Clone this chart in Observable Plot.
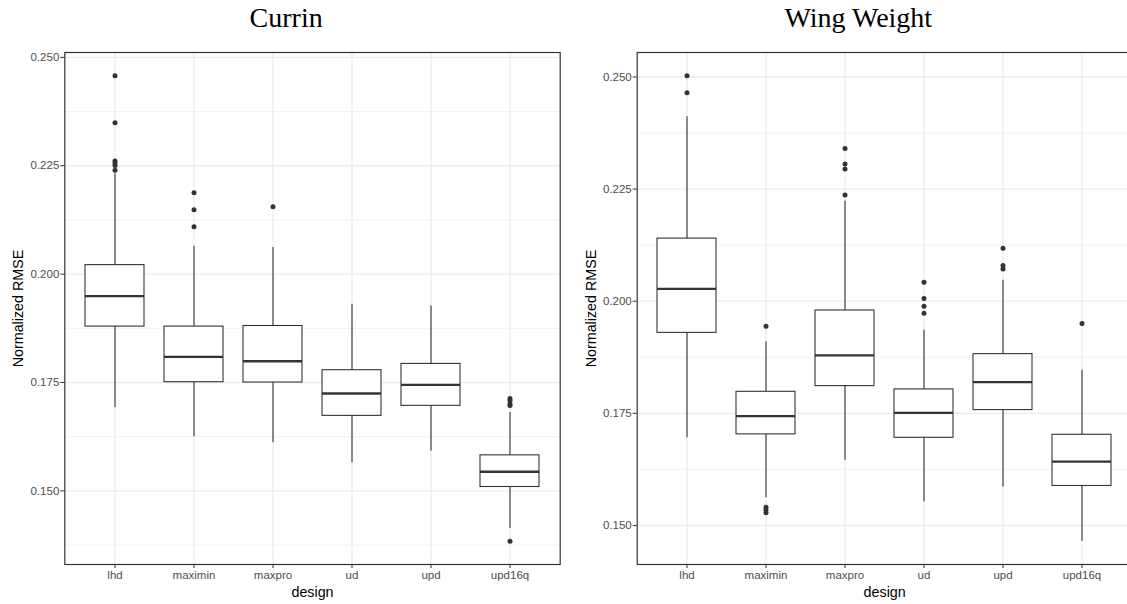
<!DOCTYPE html>
<html>
<head>
<meta charset="utf-8">
<script src="https://cdn.jsdelivr.net/npm/d3@7"></script>
<script src="https://cdn.jsdelivr.net/npm/@observablehq/plot@0.6"></script>
<style>
  html, body { margin: 0; padding: 0; background: #fff; overflow: hidden; }
  #wrap { position: relative; width: 1127px; height: 604px; overflow: hidden; background: #fff; }
  #wrap > svg { position: absolute; top: 0; }
</style>
</head>
<body>
<div id="wrap"></div>
<script>
// ---- data ----
const designs = ["lhd", "maximin", "maxpro", "ud", "upd", "upd16q"];

const currinTitle = "Currin";
const currinLo  = [0.16924, 0.16247, 0.16109, 0.15648, 0.15917, 0.14129];
const currinQ1  = [0.18789, 0.17506, 0.17499, 0.16730, 0.16961, 0.15089];
const currinMed = [0.19493, 0.18089, 0.17990, 0.17246, 0.17445, 0.15441];
const currinQ3  = [0.20207, 0.18789, 0.18803, 0.17783, 0.17928, 0.15819];
const currinHi  = [0.22312, 0.20645, 0.20615, 0.19302, 0.19263, 0.16809];
const currinOutliers = [
  [0.24575, 0.23493, 0.22611, 0.22565, 0.22503, 0.22395],
  [0.21874, 0.21483, 0.21091],
  [0.21552],
  [],
  [],
  [0.17131, 0.17085, 0.17007, 0.16970, 0.13838]
];

const wingTitle = "Wing Weight";
const wingLo  = [0.16955, 0.15619, 0.16452, 0.15523, 0.15857, 0.14648];
const wingQ1  = [0.19294, 0.17031, 0.18107, 0.16955, 0.17572, 0.15880];
const wingMed = [0.20274, 0.17439, 0.18791, 0.17512, 0.18196, 0.16421];
const wingQ3  = [0.21396, 0.17980, 0.19793, 0.18033, 0.18820, 0.17022];
const wingHi  = [0.24114, 0.19094, 0.22227, 0.19354, 0.20468, 0.18463];
const wingOutliers = [
  [0.25027, 0.24648],
  [0.19443, 0.15405, 0.15345, 0.15285],
  [0.23408, 0.23058, 0.22947, 0.22367],
  [0.20423, 0.20060, 0.19889, 0.19733],
  [0.21180, 0.20795, 0.20719],
  [0.19503]
];

const yTicks = [0.150, 0.175, 0.200, 0.225, 0.250];
const yMinor = [0.1375, 0.1625, 0.1875, 0.2125, 0.2375];
const xLabel = "design";
const yLabel = "Normalized RMSE";

// ---- drawing ----
const ink = "#333333";
const gridCol = "#EBEBEB";

function panel({title, lo, q1, med, q3, hi, outliers, left, width, marginLeft, marginRight}) {
  const boxes = designs.map((d, i) => ({design: d, lo: lo[i], q1: q1[i], med: med[i], q3: q3[i], hi: hi[i]}));
  const pts = designs.flatMap((d, i) => outliers[i].map(v => ({design: d, v})));
  const all = [...lo, ...hi, ...pts.map(p => p.v)];
  const mn = d3.min(all), mx = d3.max(all), pad = (mx - mn) * 0.05;
  const domain = [mn - pad, mx + pad];
  const inDom = v => v >= domain[0] && v <= domain[1];
  const svg = Plot.plot({
    width, height: 604,
    marginLeft, marginRight, marginTop: 52, marginBottom: 40,
    style: {fontFamily: "'Liberation Sans', Arial, sans-serif", fontSize: "11.5px", background: "#fff", overflow: "visible"},
    x: {type: "band", domain: designs, paddingInner: 0.25, paddingOuter: 0.225},
    y: {domain},
    marks: [
      Plot.ruleY(yMinor.filter(inDom), {stroke: gridCol, strokeWidth: 0.7}),
      Plot.ruleY(yTicks.filter(inDom), {stroke: gridCol, strokeWidth: 1.3}),
      Plot.ruleX(designs, {x: d => d, stroke: gridCol, strokeWidth: 1.3}),
      Plot.ruleX(boxes, {x: "design", y1: "q3", y2: "hi", stroke: ink, strokeWidth: 1.1}),
      Plot.ruleX(boxes, {x: "design", y1: "lo", y2: "q1", stroke: ink, strokeWidth: 1.1}),
      Plot.barY(boxes, {x: "design", y1: "q1", y2: "q3", fill: "#fff", stroke: ink, strokeWidth: 1.1}),
      Plot.tickY(boxes, {x: "design", y: "med", stroke: ink, strokeWidth: 2.3}),
      Plot.dot(pts, {x: "design", y: "v", r: 2.5, fill: ink, stroke: "none"}),
      Plot.frame({stroke: ink, strokeWidth: 1.2}),
      Plot.axisY({ticks: yTicks, tickFormat: d3.format(".3f"), tickSize: 4, tickPadding: 1.5, stroke: ink, fill: "#4D4D4D", label: null}),
      Plot.axisX({tickSize: 4, tickPadding: 2.5, stroke: ink, fill: "#4D4D4D", label: null}),
      Plot.text([xLabel], {frameAnchor: "bottom", lineAnchor: "middle", dy: 27.5, fontSize: 14.3, fill: "#000"}),
      Plot.text([yLabel], {frameAnchor: "left", textAnchor: "middle", lineAnchor: "middle", rotate: -90, dx: -46, fontSize: 14.3, fill: "#000"}),
      Plot.text([title], {frameAnchor: "top", lineAnchor: "middle", dx: -26.4, dy: -34, fontSize: 28, fill: "#000", fontFamily: "'Liberation Serif', 'DejaVu Serif', serif"})
    ]
  });
  svg.style.left = left + "px";
  return svg;
}

const wrap = document.getElementById("wrap");
wrap.appendChild(panel({title: currinTitle, lo: currinLo, q1: currinQ1, med: currinMed, q3: currinQ3, hi: currinHi,
  outliers: currinOutliers, left: 0, width: 563, marginLeft: 64.3, marginRight: 3.3}));
wrap.appendChild(panel({title: wingTitle, lo: wingLo, q1: wingQ1, med: wingMed, q3: wingQ3, hi: wingHi,
  outliers: wingOutliers, left: 563, width: 570, marginLeft: 73.7, marginRight: 1.4}));
</script>
</body>
</html>
